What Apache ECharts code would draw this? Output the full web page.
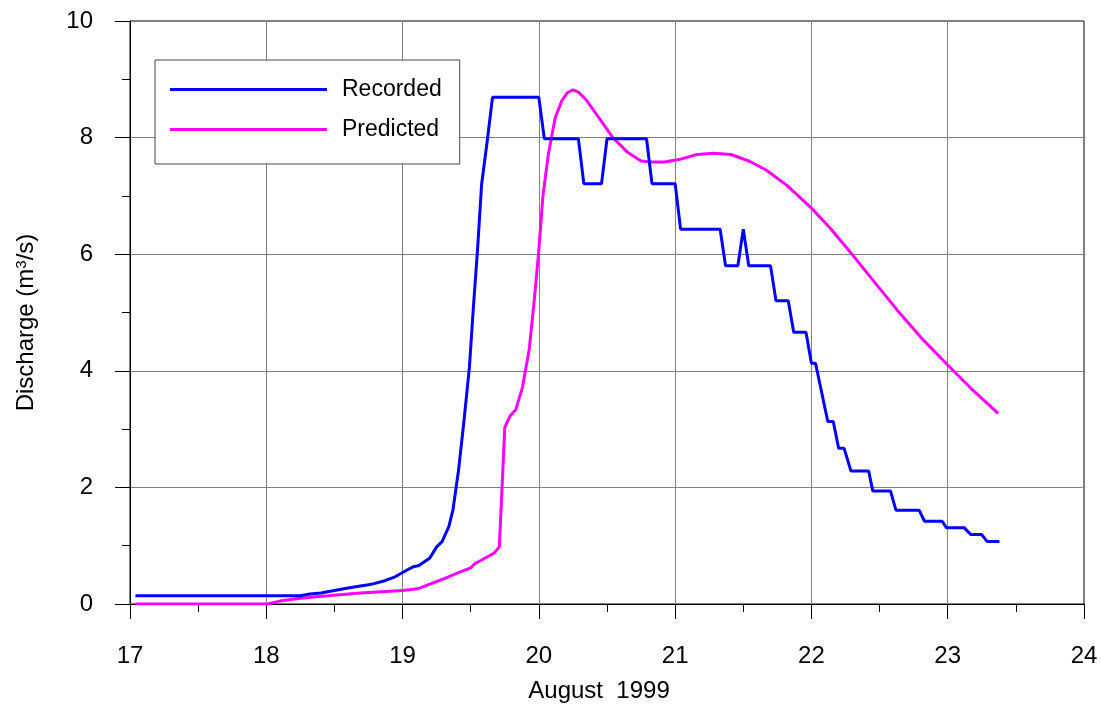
<!DOCTYPE html>
<html>
<head>
<meta charset="utf-8">
<script src="https://cdn.jsdelivr.net/npm/echarts@6/dist/echarts.min.js"></script>
<style>
html,body{margin:0;padding:0;background:#fff;}
#chart{width:1101px;height:711px;}
</style>
</head>
<body>
<div id="chart"></div>
<script>
// Recorded discharge (day of August 1999, m3/s)
var recordedDay = [17.04,18.25,18.32,18.40,18.50,18.59,18.69,18.75,18.79,18.87,18.94,19.00,19.08,19.12,19.20,19.25,19.29,19.34,19.37,19.41,19.45,19.49,19.52,19.55,19.58,19.62,19.66,20.00,20.04,20.29,20.33,20.46,20.50,20.79,20.83,21.00,21.04,21.33,21.37,21.46,21.50,21.54,21.70,21.74,21.83,21.87,21.96,22.00,22.03,22.12,22.16,22.20,22.24,22.29,22.42,22.45,22.58,22.62,22.79,22.83,22.96,22.99,23.12,23.17,23.25,23.29,23.38];
var recordedQ   = [0.14,0.14,0.17,0.19,0.23,0.27,0.31,0.33,0.35,0.40,0.46,0.54,0.64,0.66,0.79,0.98,1.07,1.33,1.62,2.28,3.13,4.05,5.10,6.08,7.20,7.92,8.69,8.69,7.98,7.98,7.21,7.21,7.98,7.98,7.21,7.21,6.43,6.43,5.80,5.80,6.43,5.80,5.80,5.20,5.20,4.66,4.66,4.13,4.13,3.13,3.13,2.67,2.67,2.28,2.28,1.94,1.94,1.61,1.61,1.42,1.42,1.31,1.31,1.19,1.19,1.07,1.07];
// Predicted discharge
var predictedDay = [17.04,18.01,18.10,18.25,18.45,18.69,19.00,19.11,19.20,19.29,19.40,19.50,19.53,19.67,19.71,19.75,19.79,19.83,19.88,19.93,19.97,20.00,20.03,20.07,20.12,20.17,20.21,20.25,20.29,20.35,20.45,20.55,20.65,20.75,20.82,20.92,21.04,21.16,21.28,21.41,21.55,21.67,21.82,22.00,22.14,22.29,22.46,22.63,22.82,23.00,23.17,23.37];
var predictedQ   = [0,0,0.05,0.10,0.14,0.19,0.23,0.26,0.34,0.42,0.53,0.62,0.69,0.87,0.98,3.03,3.23,3.33,3.72,4.38,5.30,6.08,7.00,7.72,8.34,8.64,8.77,8.82,8.78,8.64,8.31,7.98,7.75,7.60,7.58,7.58,7.63,7.71,7.73,7.71,7.59,7.44,7.18,6.79,6.44,6.02,5.53,5.04,4.53,4.10,3.70,3.27];
var seriesNames = ['Recorded','Predicted'];
var xTitle = 'August  1999';

function zip(a,b){var r=[];for(var i=0;i<a.length;i++)r.push([a[i],b[i]]);return r;}

var FONT = '"Liberation Sans", Arial, sans-serif';
var chart = echarts.init(document.getElementById('chart'), null, {renderer:'canvas'});
chart.setOption({
  animation:false,
  backgroundColor:'#fff',
  grid:{left:130,right:17,top:21,bottom:107,show:true,borderColor:'#000',borderWidth:1,backgroundColor:'transparent'},
  legend:{
    left:155, top:60, orient:'vertical',
    backgroundColor:'#fff', borderColor:'#444', borderWidth:1,
    padding:[18,18,23,15], itemGap:17,
    icon:'rect', itemWidth:157, itemHeight:3,
    textStyle:{fontFamily:FONT,fontSize:23,color:'#000',lineHeight:22,padding:[0,0,0,10]},
    data:seriesNames
  },
  xAxis:{
    type:'value', min:17, max:24, interval:1,
    name:xTitle, nameLocation:'middle', nameGap:75,
    nameTextStyle:{fontFamily:FONT,fontSize:24,color:'#000',padding:[0,16,0,0]},
    axisLine:{show:true,lineStyle:{color:'#000',width:1}},
    axisTick:{show:true,inside:false,length:15,lineStyle:{color:'#000'}},
    minorTick:{show:true,splitNumber:2,length:8,lineStyle:{color:'#000'}},
    axisLabel:{fontFamily:FONT,fontSize:24,color:'#000',margin:40},
    splitLine:{show:true,lineStyle:{color:'#808080',width:1}}
  },
  yAxis:{
    type:'value', min:0, max:10, interval:2,
    name:'{a|Discharge (m}{s|3}{a|/s)}', nameLocation:'middle', nameGap:91,
    nameTextStyle:{fontFamily:FONT,fontSize:24,color:'#000',padding:[0,0,0,-20],
      rich:{a:{fontFamily:FONT,fontSize:24,color:'#000'},s:{fontFamily:FONT,fontSize:15,color:'#000',verticalAlign:'top',padding:[0,0,10,0]}}},
    axisLine:{show:true,lineStyle:{color:'#000',width:1}},
    axisTick:{show:true,inside:false,length:15,lineStyle:{color:'#000'}},
    minorTick:{show:true,splitNumber:2,length:8,lineStyle:{color:'#000'}},
    axisLabel:{fontFamily:FONT,fontSize:24,color:'#000',margin:37},
    splitLine:{show:true,lineStyle:{color:'#808080',width:1}}
  },
  series:[
    {name:seriesNames[0],type:'line',data:zip(recordedDay,recordedQ),showSymbol:false,symbol:'none',
     lineStyle:{color:'#0000ff',width:3},itemStyle:{color:'#0000ff'},z:3},
    {name:seriesNames[1],type:'line',data:zip(predictedDay,predictedQ),showSymbol:false,symbol:'none',
     lineStyle:{color:'#ff00ff',width:3},itemStyle:{color:'#ff00ff'},z:2}
  ]
});
</script>
</body>
</html>
